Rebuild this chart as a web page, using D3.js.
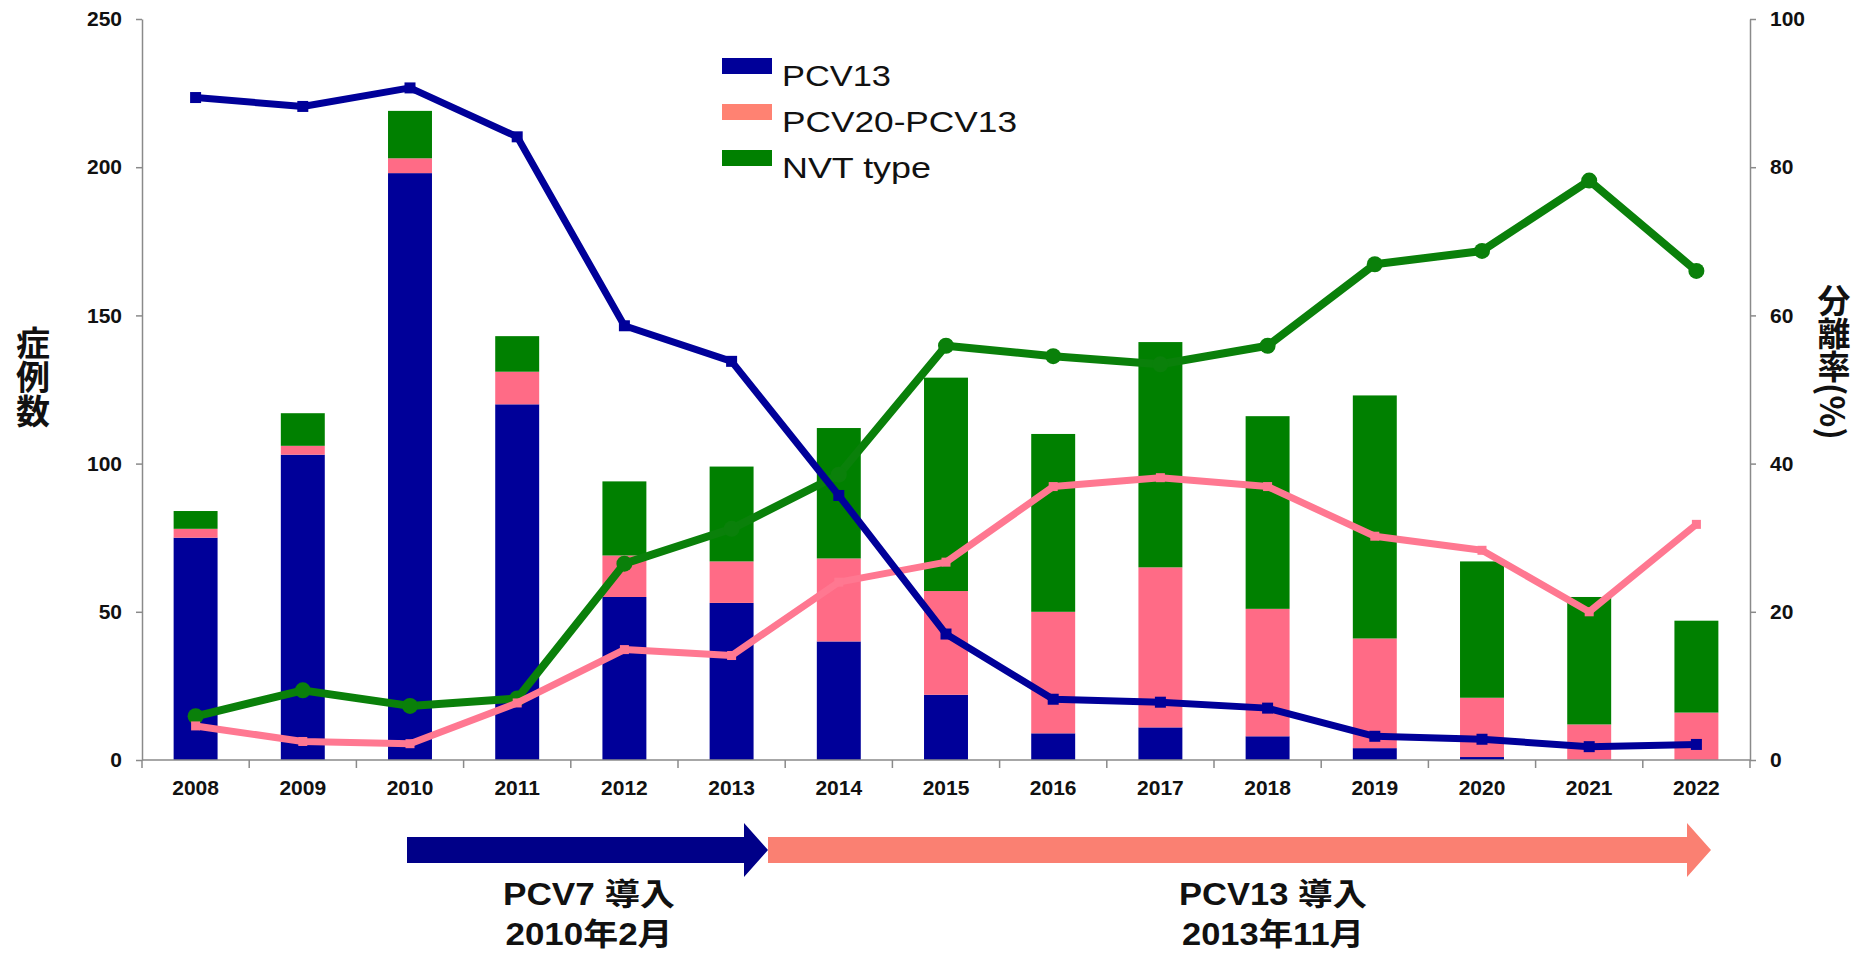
<!doctype html>
<html lang="ja">
<head>
<meta charset="utf-8">
<title>PCV serotype chart</title>
<script src="https://d3js.org/d3.v7.min.js"></script>
<style>
    body { margin: 0; background: #fff; }
    svg text { font-family: "Liberation Sans", "Noto Sans CJK JP", sans-serif; fill: #111; }
</style>
</head>
<body>
<svg id="chart" width="1868" height="955"></svg>
<script>

    // data
    const years = ["2008", "2009", "2010", "2011", "2012", "2013", "2014", "2015",
                   "2016", "2017", "2018", "2019", "2020", "2021", "2022"];

    // case counts, stacked bars
    const pcv13Cases = [75, 103, 198, 120, 55, 53, 40, 22, 9, 11, 8, 4, 1, 0, 0];
    const pcv20Cases = [3, 3, 5, 11, 14, 14, 28, 35, 41, 54, 43, 37, 20, 12, 16];
    const nvtCases   = [6, 11, 16, 12, 25, 32, 44, 72, 60, 76, 65, 82, 46, 43, 31];

    // isolation rate (%), lines on the right axis
    const pcv13Rate = [89.4, 88.2, 90.7, 84.1, 58.6, 53.8, 35.7, 17.0, 8.2, 7.8, 7.0, 3.2, 2.8, 1.8, 2.1];
    const pcv20Rate = [4.6, 2.5, 2.2, 7.7, 14.9, 14.1, 24.0, 26.7, 36.9, 38.1, 36.9, 30.2, 28.3, 20.0, 31.8];
    const nvtRate   = [5.9, 9.4, 7.3, 8.3, 26.5, 31.2, 38.5, 55.9, 54.5, 53.4, 55.9, 66.9, 68.7, 78.2, 66.0];

    const leftTicks = [0, 50, 100, 150, 200, 250];
    const rightTicks = [0, 20, 40, 60, 80, 100];

    const seriesNames = ["PCV13", "PCV20-PCV13", "NVT type"];
    const barColors = ["#000099", "#ff6b86", "#008000"];
    const legendColors = ["#000099", "#ff8272", "#008000"];
    const lineColors = ["#000099", "#ff7891", "#0a800a"];

    const svg = d3.select("#chart");
    const plotLeft = 142, plotRight = 1750, plotTop = 19, plotBottom = 760;

    let x = d3.scaleBand()
        .domain(years)
        .range([plotLeft, plotRight])
        .paddingInner(0.59)
        .paddingOuter(0.295);

    let yCount = d3.scaleLinear().domain([0, 250]).range([plotBottom, plotTop]);
    let yRate = d3.scaleLinear().domain([0, 100]).range([plotBottom, plotTop]);

    // stacked bars
    let table = years.map(function (yr, i) {
        return { year: yr, pcv13: pcv13Cases[i], pcv20: pcv20Cases[i], nvt: nvtCases[i] };
    });
    let stack = d3.stack().keys(["pcv13", "pcv20", "nvt"]);
    let layers = stack(table);

    svg.append("g").attr("class", "bars")
        .selectAll("g")
        .data(layers).enter()
        .append("g")
        .attr("fill", function (d, i) { return barColors[i]; })
        .selectAll("rect")
        .data(function (d) { return d; }).enter()
        .append("rect")
        .attr("x", function (d) { return x(d.data.year); })
        .attr("width", x.bandwidth())
        .attr("y", function (d) { return yCount(d[1]); })
        .attr("height", function (d) { return yCount(d[0]) - yCount(d[1]); });

    // axes
    let axisColor = "#8a8a8a";

    let leftAxis = svg.append("g")
        .attr("transform", "translate(" + plotLeft + ",0)")
        .call(d3.axisLeft(yCount).tickValues(leftTicks).tickSize(6).tickSizeOuter(0).tickPadding(14));

    let rightAxis = svg.append("g")
        .attr("transform", "translate(" + plotRight + ",0)")
        .call(d3.axisRight(yRate).tickValues(rightTicks).tickSize(6).tickSizeOuter(0).tickPadding(14));

    [leftAxis, rightAxis].forEach(function (ax) {
        ax.select(".domain").attr("stroke", axisColor).attr("stroke-width", 1.5);
        ax.selectAll(".tick line").attr("stroke", axisColor).attr("stroke-width", 1.5);
        ax.selectAll(".tick text")
            .style("font-size", "21px").style("font-weight", "bold")
            .attr("fill", "#111");
    });

    // x axis: line with ticks at the category boundaries
    let xAxis = svg.append("g").attr("class", "x-axis");
    xAxis.append("line")
        .attr("x1", plotLeft).attr("x2", plotRight)
        .attr("y1", plotBottom).attr("y2", plotBottom)
        .attr("stroke", axisColor).attr("stroke-width", 1.5);
    let bounds = d3.range(years.length + 1).map(function (i) { return plotLeft + i * x.step(); });
    xAxis.selectAll("line.tick")
        .data(bounds).enter()
        .append("line").attr("class", "tick")
        .attr("x1", function (d) { return d; }).attr("x2", function (d) { return d; })
        .attr("y1", plotBottom).attr("y2", plotBottom + 8)
        .attr("stroke", axisColor).attr("stroke-width", 1.5);
    xAxis.selectAll("text")
        .data(years).enter()
        .append("text")
        .attr("x", function (d) { return x(d) + x.bandwidth() / 2; })
        .attr("y", 795)
        .attr("text-anchor", "middle")
        .style("font-size", "21px").style("font-weight", "bold")
        .text(function (d) { return d; });

    // lines (green under pink under blue)
    let cx = function (i) { return x(years[i]) + x.bandwidth() / 2; };
    let lineGen = d3.line()
        .x(function (d, i) { return cx(i); })
        .y(function (d) { return yRate(d); });

    let lineSeries = [
        { values: nvtRate, color: lineColors[2], width: 8, marker: "circle", size: 8 },
        { values: pcv20Rate, color: lineColors[1], width: 7, marker: "square", size: 9 },
        { values: pcv13Rate, color: lineColors[0], width: 7, marker: "square", size: 11 }
    ];

    lineSeries.forEach(function (s) {
        let g = svg.append("g");
        g.append("path")
            .datum(s.values)
            .attr("d", lineGen)
            .attr("fill", "none")
            .attr("stroke", s.color)
            .attr("stroke-width", s.width)
            .attr("stroke-linejoin", "round");
        if (s.marker === "circle") {
            g.selectAll("circle")
                .data(s.values).enter()
                .append("circle")
                .attr("cx", function (d, i) { return cx(i); })
                .attr("cy", function (d) { return yRate(d); })
                .attr("r", s.size)
                .attr("fill", s.color);
        } else {
            g.selectAll("rect")
                .data(s.values).enter()
                .append("rect")
                .attr("x", function (d, i) { return cx(i) - s.size / 2; })
                .attr("y", function (d) { return yRate(d) - s.size / 2; })
                .attr("width", s.size).attr("height", s.size)
                .attr("fill", s.color);
        }
    });

    // axis titles (vertical)
    svg.append("text")
        .attr("x", 33).attr("y", 326)
        .style("writing-mode", "vertical-rl")
        .style("font-family", "'Noto Sans CJK JP', sans-serif")
        .style("font-size", "34px").style("font-weight", "bold")
        .text("症例数");

    svg.append("text")
        .attr("x", 1834).attr("y", 284)
        .style("writing-mode", "vertical-rl")
        .style("font-family", "'Noto Sans CJK JP', sans-serif")
        .style("font-size", "33px").style("font-weight", "bold")
        .text("分離率(%)");

    // legend
    const legendWidths = [109, 235, 149];
    let legend = svg.append("g").attr("transform", "translate(722,58)");
    seriesNames.forEach(function (name, i) {
        let row = legend.append("g").attr("transform", "translate(0," + (i * 46) + ")");
        row.append("rect")
            .attr("width", 50).attr("height", 16)
            .attr("fill", legendColors[i]);
        row.append("text")
            .attr("x", 60).attr("y", 28)
            .attr("textLength", legendWidths[i])
            .attr("lengthAdjust", "spacingAndGlyphs")
            .style("font-size", "29px")
            .text(name);
    });

    // introduction arrows at the bottom
    let arrowY = 850;
    function arrow(x0, x1, color) {
        let body = 13, head = 27, headLen = 24;
        let pts = [
            [x0, arrowY - body], [x1 - headLen, arrowY - body], [x1 - headLen, arrowY - head],
            [x1, arrowY], [x1 - headLen, arrowY + head], [x1 - headLen, arrowY + body], [x0, arrowY + body]
        ];
        svg.append("path")
            .attr("d", d3.line()(pts) + "Z")
            .attr("fill", color);
    }
    arrow(407, 768, "#000088");
    arrow(768, 1711, "#fa8072");

    let notes = [
        { x: 589, lines: ["PCV7 導入", "2010年2月"], widths: [172, 167] },
        { x: 1273, lines: ["PCV13 導入", "2013年11月"], widths: [188, 182] }
    ];
    notes.forEach(function (n) {
        n.lines.forEach(function (t, j) {
            svg.append("text")
                .attr("x", n.x - n.widths[j] / 2).attr("y", 905 + j * 40)
                .attr("textLength", n.widths[j])
                .attr("lengthAdjust", "spacingAndGlyphs")
                .style("font-size", "31px").style("font-weight", "bold")
                .text(t);
        });
    });

</script>
</body>
</html>
